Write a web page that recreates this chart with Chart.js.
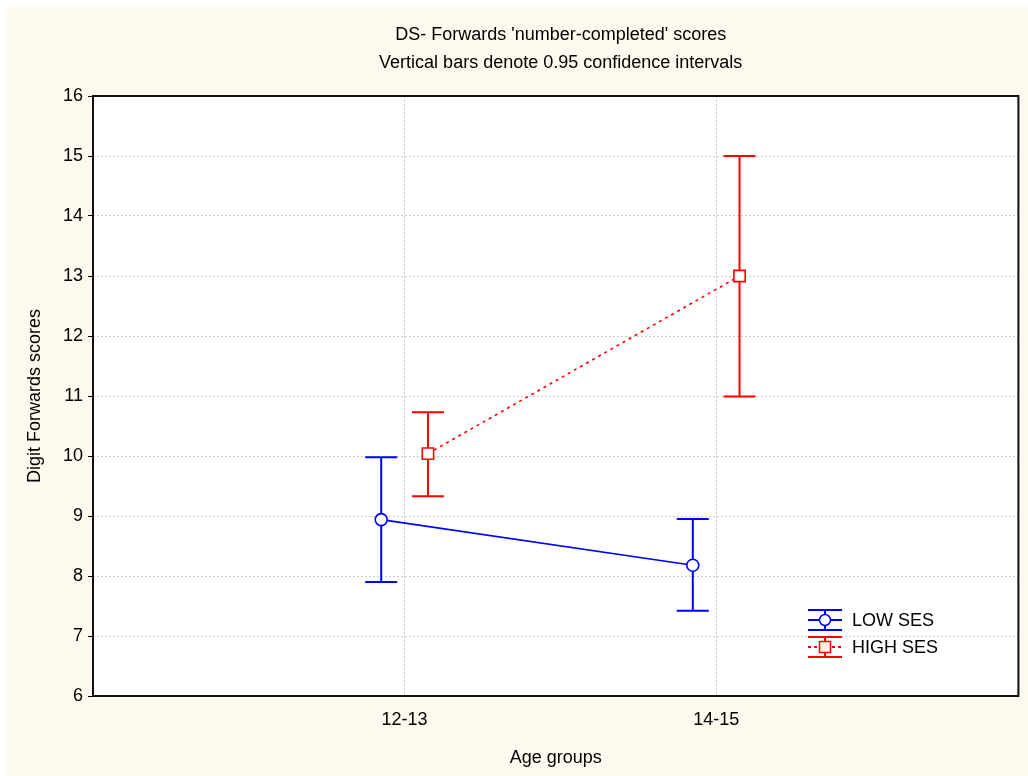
<!DOCTYPE html>
<html><head><meta charset="utf-8">
<script src="https://cdn.jsdelivr.net/npm/chart.js@4/dist/chart.umd.min.js"></script>
<style>html,body{margin:0;padding:0;background:#fff;} #wrap{position:relative;width:1028px;height:776px;} canvas{display:block;}</style>
</head><body><div id="wrap"><canvas id="c" width="1028" height="776"></canvas></div>
<script>
const categories = ['12-13', '14-15'];
const seriesNames = ['LOW SES', 'HIGH SES'];
const lowMean = [8.94, 8.18];
const lowLower = [7.90, 7.42];
const lowUpper = [9.98, 8.95];
const highMean = [10.04, 13.0];
const highLower = [9.33, 10.99];
const highUpper = [10.73, 15.0];
const yTickValues = [6, 7, 8, 9, 10, 11, 12, 13, 14, 15, 16];
const titleLines = ["DS- Forwards 'number-completed' scores", "Vertical bars denote 0.95 confidence intervals"];
const xTitle = 'Age groups';
const yTitle = 'Digit Forwards scores';

const FONT = '"Liberation Sans", Arial, sans-serif';
const FS = 18;
const dodge = [-0.075, 0.075];
const colors = ['#0000ff', '#ff0000'];
const lows = [lowLower, highLower];
const ups = [lowUpper, highUpper];

Chart.defaults.font.family = FONT;
Chart.defaults.font.size = FS;
Chart.defaults.color = '#000';

const bgPlugin = {
  id: 'bg',
  beforeDraw(chart) {
    const {ctx, chartArea: a} = chart;
    ctx.save();
    ctx.fillStyle = '#ffffff';
    ctx.fillRect(0, 0, chart.width, chart.height);
    ctx.fillStyle = '#fdf9ee';
    ctx.fillRect(7, 7, chart.width - 7, chart.height - 7);
    ctx.fillStyle = '#ffffff';
    ctx.fillRect(a.left, a.top, a.right - a.left, a.bottom - a.top);
    ctx.restore();
  }
};

const errPlugin = {
  id: 'err',
  beforeDatasetsDraw(chart) {
    const {ctx, scales: {x, y}} = chart;
    ctx.save();
    ctx.lineWidth = 2;
    chart.data.datasets.forEach((ds, k) => {
      ctx.strokeStyle = colors[k];
      ctx.setLineDash([]);
      categories.forEach((c, i) => {
        const px = x.getPixelForValue(i + 1 + dodge[k]);
        const yl = y.getPixelForValue(lows[k][i]);
        const yu = y.getPixelForValue(ups[k][i]);
        ctx.beginPath();
        ctx.moveTo(px, yl); ctx.lineTo(px, yu);
        ctx.moveTo(px - 16, yl); ctx.lineTo(px + 16, yl);
        ctx.moveTo(px - 16, yu); ctx.lineTo(px + 16, yu);
        ctx.stroke();
      });
    });
    ctx.restore();
  }
};

const decoPlugin = {
  id: 'deco',
  afterDraw(chart) {
    const {ctx, chartArea: a} = chart;
    ctx.save();
    ctx.strokeStyle = '#111';
    ctx.lineWidth = 2;
    ctx.setLineDash([]);
    ctx.strokeRect(a.left, a.top, a.right - a.left, a.bottom - a.top);
    ctx.fillStyle = '#000';
    ctx.font = FS + 'px ' + FONT;
    ctx.textAlign = 'center';
    ctx.textBaseline = 'middle';
    const cx = (a.left + a.right) / 2 + 5;
    ctx.fillText(titleLines[0], cx, 35);
    ctx.fillText(titleLines[1], cx, 63);
    const lx = 825, ly = [620, 647];
    ctx.textAlign = 'left';
    seriesNames.forEach((name, k) => {
      const yy = ly[k];
      ctx.strokeStyle = colors[k];
      ctx.lineWidth = 2;
      ctx.setLineDash([]);
      ctx.beginPath();
      ctx.moveTo(lx - 17, yy - 10); ctx.lineTo(lx + 17, yy - 10);
      ctx.moveTo(lx - 17, yy + 10); ctx.lineTo(lx + 17, yy + 10);
      ctx.moveTo(lx, yy - 10); ctx.lineTo(lx, yy + 10);
      ctx.stroke();
      if (k === 1) ctx.setLineDash([3, 3]);
      ctx.beginPath();
      ctx.moveTo(lx - 17, yy); ctx.lineTo(lx + 17, yy);
      ctx.stroke();
      ctx.setLineDash([]);
      ctx.lineWidth = 1.5;
      ctx.beginPath();
      if (k === 0) {
        ctx.fillStyle = '#ffffff';
        ctx.arc(lx, yy, 5.5, 0, Math.PI * 2);
        ctx.fill(); ctx.stroke();
      } else {
        ctx.fillStyle = '#fdf3e6';
        ctx.rect(lx - 5.5, yy - 5.5, 11, 11);
        ctx.fill(); ctx.stroke();
      }
      ctx.fillStyle = '#000';
      ctx.font = FS + 'px ' + FONT;
      ctx.textBaseline = 'middle';
      ctx.fillText(name, 852, yy + 1);
    });
    ctx.restore();
  }
};

const datasets = [
  {
    label: seriesNames[0],
    data: categories.map((c, i) => ({x: i + 1 + dodge[0], y: lowMean[i]})),
    borderColor: colors[0], backgroundColor: '#ffffff',
    borderWidth: 1.6, pointStyle: 'circle', pointRadius: 6, pointBorderWidth: 1.6,
    pointBackgroundColor: '#ffffff', tension: 0
  },
  {
    label: seriesNames[1],
    data: categories.map((c, i) => ({x: i + 1 + dodge[1], y: highMean[i]})),
    borderColor: colors[1], backgroundColor: '#ffffff',
    borderWidth: 1.6, borderDash: [3, 4], pointStyle: 'rect', pointRadius: 8, pointBorderWidth: 1.6,
    pointBackgroundColor: '#ffffff', tension: 0
  }
];

new Chart(document.getElementById('c'), {
  type: 'line',
  data: {datasets},
  plugins: [bgPlugin, errPlugin, decoPlugin],
  options: {
    responsive: false,
    animation: false,
    layout: {padding: {top: 96, right: 3, left: 0, bottom: 0}},
    plugins: {legend: {display: false}, tooltip: {enabled: false}, title: {display: false}},
    scales: {
      x: {
        type: 'linear', min: 0, max: 2.97,
        afterFit(s) { s.height = 80; },
        afterBuildTicks(s) { s.ticks = categories.map((c, i) => ({value: i + 1})); },
        ticks: {autoSkip: false, maxRotation: 0, padding: 13, callback: (v) => categories[v - 1] || ''},
        grid: {color: '#cccccc', lineWidth: 1, drawTicks: false},
        border: {display: false, dash: [2, 2]},
        title: {display: true, text: xTitle, padding: {top: 0, bottom: 7}, font: {size: FS}}
      },
      y: {
        type: 'linear', min: 6, max: 16,
        afterFit(s) { s.width = 93; },
        afterBuildTicks(s) { s.ticks = yTickValues.map(v => ({value: v})); },
        ticks: {padding: 5},
        grid: {color: '#cccccc', lineWidth: 1, drawTicks: true, tickLength: 5, tickColor: '#000', tickWidth: 1},
        border: {display: false, dash: [2, 2]},
        title: {display: true, text: yTitle, padding: {top: 24, bottom: 0}, font: {size: FS}}
      }
    }
  }
});
</script>
</body></html>
